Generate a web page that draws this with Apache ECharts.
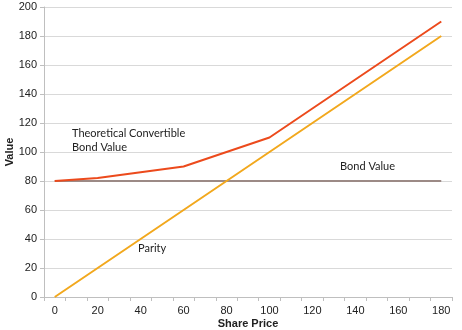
<!DOCTYPE html>
<html><head><meta charset="utf-8">
<script src="https://cdn.jsdelivr.net/npm/echarts@6/dist/echarts.min.js"></script>
<style>html,body{margin:0;padding:0;background:#fff}#c{width:462px;height:330px}</style>
</head><body><div id="c"></div>
<script>
var categories = ['0','10','20','30','40','50','60','70','80','90','100','110','120','130','140','150','160','170','180'];
var theoretical = [80,null,82,null,86,null,90,null,100,null,110,null,130,null,150,null,170,null,190];
var parity = [0,null,20,null,40,null,60,null,80,null,100,null,120,null,140,null,160,null,180];
var bondValue = [80,null,80,null,80,null,80,null,80,null,80,null,80,null,80,null,80,null,80];
var yTicks = [0,20,40,60,80,100,120,140,160,180,200];

var chart = echarts.init(document.getElementById('c'), null, {renderer:'canvas'});
var lab = {fontFamily:'Liberation Sans, Arial, sans-serif', fontSize:11, color:'#222'};
var ann = {fontFamily:'Lato, Open Sans, sans-serif', fontSize:11, fill:'#222'};
chart.setOption({
  animation:false,
  grid:{left:44,right:10,top:7,bottom:33,containLabel:false,outerBoundsMode:'none'},
  xAxis:{type:'category',data:categories,boundaryGap:true,
    name:'Share Price',nameLocation:'middle',nameGap:21,nameMoveOverlap:false,
    nameTextStyle:{fontFamily:'Liberation Sans, Arial, sans-serif',fontSize:11,fontWeight:'bold',color:'#222'},
    axisLine:{lineStyle:{color:'#BFBFBF'}},
    axisTick:{show:true,interval:0,length:4,lineStyle:{color:'#BFBFBF'}},
    axisLabel:Object.assign({interval:1,margin:8},lab),
    splitLine:{show:false}},
  yAxis:{type:'value',min:yTicks[0],max:yTicks[yTicks.length-1],interval:20,
    name:'Value',nameLocation:'middle',nameGap:29,nameMoveOverlap:false,
    nameTextStyle:{fontFamily:'Liberation Sans, Arial, sans-serif',fontSize:11,fontWeight:'bold',color:'#222'},
    axisLine:{show:true,lineStyle:{color:'#BFBFBF'}},
    axisTick:{show:true,length:4,lineStyle:{color:'#BFBFBF'}},
    axisLabel:Object.assign({margin:7},lab),
    splitLine:{lineStyle:{color:'#D9D9D9'}}},
  series:[
    {type:'line',data:bondValue,connectNulls:true,symbol:'none',lineStyle:{color:'#9C8A86',width:2},z:2},
    {type:'line',data:parity,connectNulls:true,symbol:'none',lineStyle:{color:'#F2A81D',width:2},z:3},
    {type:'line',data:theoretical,connectNulls:true,symbol:'none',lineStyle:{color:'#EC4A1C',width:2},z:4}
  ],
  graphic:[
    {type:'text',left:72,top:126,style:Object.assign({text:'Theoretical Convertible\nBond Value',lineHeight:14},ann)},
    {type:'text',left:340,top:161,style:Object.assign({text:'Bond Value'},ann)},
    {type:'text',left:138,top:243,style:Object.assign({text:'Parity'},ann)}
  ]
});
</script></body></html>
